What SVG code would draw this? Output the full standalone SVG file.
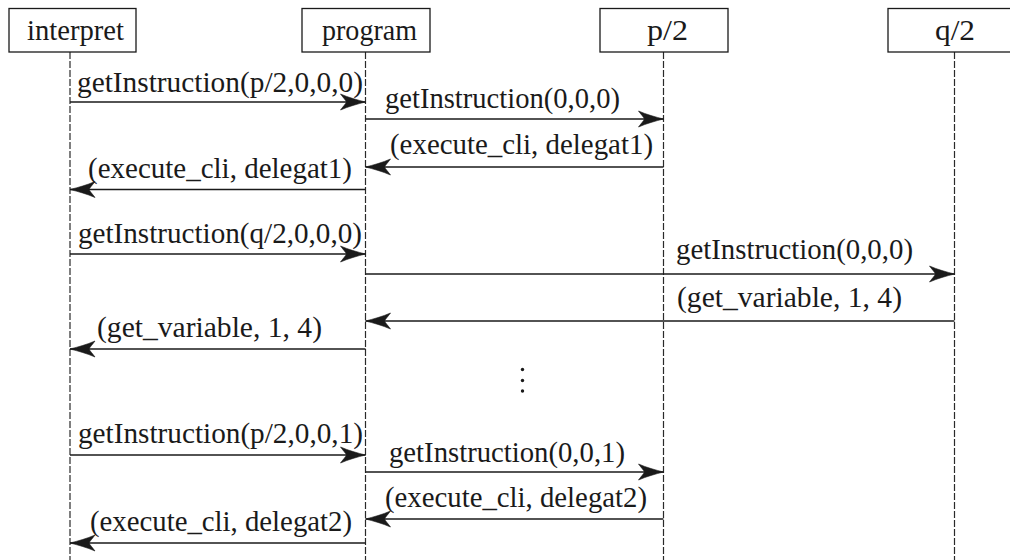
<svg xmlns="http://www.w3.org/2000/svg" width="1010" height="560" viewBox="0 0 1010 560">
  <style>
    .box { fill: #fff; stroke: #1a1a1a; stroke-width: 1.3; }
    .life { stroke: #2a2a2a; stroke-width: 1.2; stroke-dasharray: 7 2; fill: none; }
    .msg { stroke: #1a1a1a; stroke-width: 1.4; fill: none; marker-end: url(#head); }
    text { font-family: "Liberation Serif", "Times New Roman", serif; font-size: 29px; fill: #1a1a1a; }
  </style>
  <defs>
    <marker id="head" markerUnits="userSpaceOnUse" markerWidth="30" markerHeight="20" viewBox="-27 -10 30 20" refX="0" refY="0" orient="auto">
      <path d="M0,0 C-8,-2 -17,-4.5 -25,-8 C-22,-4 -20,-2 -19,0 C-20,2 -22,4 -25,8 C-17,4.5 -8,2 0,0 Z" fill="#1a1a1a" stroke="#1a1a1a" stroke-width="0.6"/>
    </marker>
  </defs>

  <!-- lifelines -->
  <g id="lifelines">
    <line class="life" x1="70" y1="52" x2="70" y2="560"/>
    <line class="life" x1="365.5" y1="52" x2="365.5" y2="560"/>
    <line class="life" x1="663.5" y1="52" x2="663.5" y2="560"/>
    <line class="life" x1="954.5" y1="52" x2="954.5" y2="560"/>
  </g>

  <!-- participants -->
  <g id="interpret">
    <rect class="box" x="9" y="8.5" width="127" height="43.5"/>
    <text x="27" y="40" textLength="97" lengthAdjust="spacingAndGlyphs">interpret</text>
  </g>
  <g id="program">
    <rect class="box" x="302" y="8.5" width="128" height="43.5"/>
    <text x="322" y="40" textLength="95" lengthAdjust="spacingAndGlyphs">program</text>
  </g>
  <g id="p2">
    <rect class="box" x="600" y="8.5" width="128" height="43.5"/>
    <text x="647" y="40" textLength="41" lengthAdjust="spacingAndGlyphs">p/2</text>
  </g>
  <g id="q2">
    <rect class="box" x="888" y="8.5" width="130" height="43.5"/>
    <text x="935" y="40" textLength="40" lengthAdjust="spacingAndGlyphs">q/2</text>
  </g>

  <!-- messages -->
  <g id="connectors">
    <line class="msg" x1="70" y1="102" x2="365.5" y2="102"/>
    <line class="msg" x1="365.5" y1="119" x2="663.5" y2="119"/>
    <line class="msg" x1="663.5" y1="167" x2="365.5" y2="167"/>
    <line class="msg" x1="365.5" y1="189.5" x2="70" y2="189.5"/>
    <line class="msg" x1="70" y1="254" x2="365.5" y2="254"/>
    <line class="msg" x1="365.5" y1="274" x2="954.5" y2="274"/>
    <line class="msg" x1="954.5" y1="321" x2="365.5" y2="321"/>
    <line class="msg" x1="365.5" y1="349" x2="70" y2="349"/>
    <line class="msg" x1="70" y1="455" x2="365.5" y2="455"/>
    <line class="msg" x1="365.5" y1="472" x2="663.5" y2="472"/>
    <line class="msg" x1="663.5" y1="519" x2="365.5" y2="519"/>
    <line class="msg" x1="365.5" y1="543" x2="70" y2="543"/>
  </g>

  <!-- message labels -->
  <g id="labels">
    <text x="77" y="92" textLength="286" lengthAdjust="spacingAndGlyphs">getInstruction(p/2,0,0,0)</text>
    <text x="385" y="108" textLength="235" lengthAdjust="spacingAndGlyphs">getInstruction(0,0,0)</text>
    <text x="390" y="154" textLength="263" lengthAdjust="spacingAndGlyphs">(execute_cli, delegat1)</text>
    <text x="88" y="178" textLength="264" lengthAdjust="spacingAndGlyphs">(execute_cli, delegat1)</text>
    <text x="78" y="243" textLength="284" lengthAdjust="spacingAndGlyphs">getInstruction(q/2,0,0,0)</text>
    <text x="676" y="259" textLength="237" lengthAdjust="spacingAndGlyphs">getInstruction(0,0,0)</text>
    <text x="677" y="307" textLength="225" lengthAdjust="spacingAndGlyphs">(get_variable, 1, 4)</text>
    <text x="97" y="337" textLength="225" lengthAdjust="spacingAndGlyphs">(get_variable, 1, 4)</text>
    <text x="78" y="443" textLength="285" lengthAdjust="spacingAndGlyphs">getInstruction(p/2,0,0,1)</text>
    <text x="389" y="462" textLength="236" lengthAdjust="spacingAndGlyphs">getInstruction(0,0,1)</text>
    <text x="385" y="507" textLength="262" lengthAdjust="spacingAndGlyphs">(execute_cli, delegat2)</text>
    <text x="90" y="531" textLength="262" lengthAdjust="spacingAndGlyphs">(execute_cli, delegat2)</text>
  </g>

  <!-- continuation dots -->
  <g id="ellipsis" fill="#1a1a1a">
    <circle cx="522.5" cy="369.5" r="1.7"/>
    <circle cx="522.5" cy="380.5" r="1.7"/>
    <circle cx="522.5" cy="391" r="1.7"/>
  </g>
</svg>
